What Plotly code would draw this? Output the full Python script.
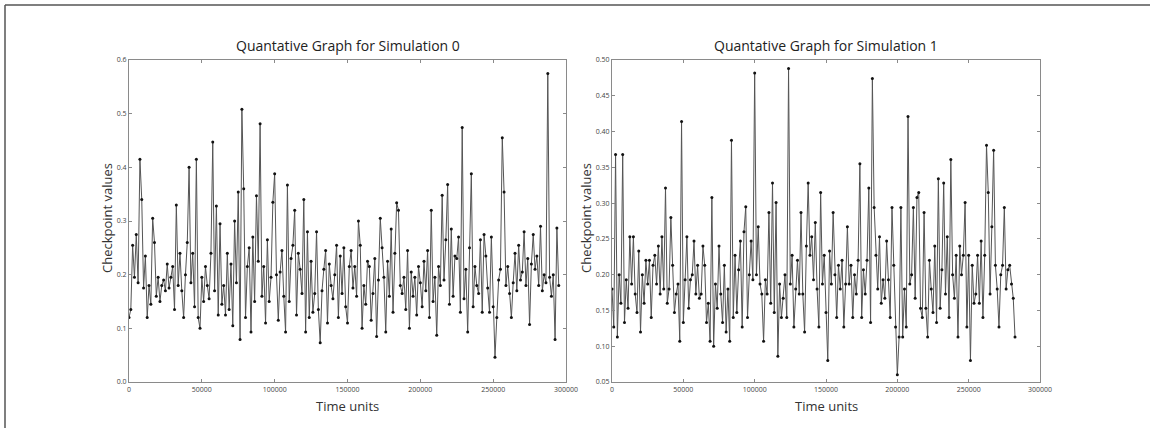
import plotly.graph_objects as go

# ---------------- data ----------------
step = 1250
sim0_values = [
    0.120, 0.135, 0.255, 0.195, 0.275, 0.185,
    0.415, 0.340, 0.175, 0.235, 0.120, 0.180,
    0.145, 0.305, 0.260, 0.160, 0.195, 0.150,
    0.180, 0.190, 0.170, 0.220, 0.175, 0.195,
    0.215, 0.135, 0.330, 0.180, 0.240, 0.170,
    0.120, 0.200, 0.260, 0.400, 0.185, 0.240,
    0.140, 0.415, 0.120, 0.100, 0.195, 0.150,
    0.215, 0.180, 0.155, 0.240, 0.447, 0.170,
    0.328, 0.125, 0.295, 0.145, 0.180, 0.125,
    0.240, 0.135, 0.220, 0.105, 0.300, 0.185,
    0.354, 0.079, 0.508, 0.360, 0.120, 0.215,
    0.250, 0.093, 0.270, 0.150, 0.347, 0.225,
    0.481, 0.160, 0.215, 0.110, 0.265, 0.150,
    0.195, 0.335, 0.388, 0.200, 0.115, 0.205,
    0.245, 0.160, 0.093, 0.367, 0.150, 0.230,
    0.255, 0.320, 0.125, 0.240, 0.210, 0.165,
    0.340, 0.093, 0.280, 0.120, 0.225, 0.130,
    0.165, 0.280, 0.135, 0.073, 0.170, 0.210,
    0.245, 0.110, 0.220, 0.180, 0.155, 0.200,
    0.255, 0.120, 0.235, 0.165, 0.250, 0.140,
    0.110, 0.215, 0.245, 0.175, 0.215, 0.160,
    0.300, 0.255, 0.100, 0.180, 0.145, 0.225,
    0.215, 0.115, 0.165, 0.230, 0.085, 0.190,
    0.305, 0.250, 0.195, 0.093, 0.225, 0.160,
    0.285, 0.130, 0.240, 0.334, 0.320, 0.180,
    0.165, 0.195, 0.135, 0.245, 0.100, 0.205,
    0.160, 0.195, 0.125, 0.215, 0.185, 0.140,
    0.225, 0.170, 0.245, 0.120, 0.320, 0.150,
    0.195, 0.087, 0.215, 0.180, 0.348, 0.190,
    0.265, 0.368, 0.145, 0.285, 0.160, 0.235,
    0.230, 0.270, 0.130, 0.474, 0.155, 0.210,
    0.093, 0.250, 0.388, 0.140, 0.215, 0.180,
    0.165, 0.265, 0.130, 0.275, 0.235, 0.175,
    0.130, 0.270, 0.140, 0.046, 0.120, 0.190,
    0.210, 0.455, 0.354, 0.180, 0.215, 0.165,
    0.120, 0.185, 0.240, 0.170, 0.255, 0.190,
    0.205, 0.280, 0.180, 0.230, 0.107, 0.220,
    0.275, 0.210, 0.235, 0.180, 0.290, 0.170,
    0.200, 0.185, 0.575, 0.195, 0.160, 0.200,
    0.079, 0.287, 0.180,
]
sim1_values = [
    0.180, 0.127, 0.368, 0.113, 0.200, 0.160,
    0.368, 0.133, 0.193, 0.153, 0.253, 0.187,
    0.253, 0.173, 0.147, 0.233, 0.120, 0.200,
    0.160, 0.220, 0.187, 0.220, 0.140, 0.213,
    0.227, 0.187, 0.240, 0.173, 0.253, 0.180,
    0.321, 0.160, 0.180, 0.280, 0.213, 0.147,
    0.173, 0.187, 0.107, 0.414, 0.133, 0.193,
    0.253, 0.153, 0.193, 0.200, 0.247, 0.173,
    0.213, 0.167, 0.173, 0.240, 0.213, 0.133,
    0.160, 0.107, 0.308, 0.100, 0.187, 0.153,
    0.240, 0.173, 0.133, 0.213, 0.120, 0.180,
    0.107, 0.388, 0.140, 0.227, 0.147, 0.207,
    0.247, 0.127, 0.260, 0.295, 0.140, 0.200,
    0.247, 0.193, 0.482, 0.200, 0.267, 0.187,
    0.173, 0.107, 0.193, 0.173, 0.287, 0.160,
    0.328, 0.147, 0.301, 0.086, 0.187, 0.140,
    0.167, 0.200, 0.140, 0.488, 0.187, 0.227,
    0.127, 0.180, 0.220, 0.173, 0.287, 0.173,
    0.120, 0.240, 0.328, 0.227, 0.253, 0.193,
    0.273, 0.180, 0.127, 0.315, 0.187, 0.227,
    0.147, 0.080, 0.233, 0.187, 0.287, 0.200,
    0.140, 0.213, 0.180, 0.220, 0.127, 0.187,
    0.267, 0.187, 0.213, 0.140, 0.200, 0.173,
    0.220, 0.355, 0.140, 0.207, 0.173, 0.220,
    0.321, 0.133, 0.474, 0.294, 0.227, 0.180,
    0.253, 0.160, 0.193, 0.167, 0.247, 0.193,
    0.140, 0.294, 0.213, 0.127, 0.060, 0.113,
    0.294, 0.113, 0.180, 0.127, 0.421, 0.187,
    0.200, 0.294, 0.167, 0.308, 0.315, 0.153,
    0.140, 0.287, 0.153, 0.113, 0.220, 0.180,
    0.147, 0.240, 0.133, 0.334, 0.153, 0.207,
    0.328, 0.173, 0.253, 0.140, 0.361, 0.200,
    0.167, 0.227, 0.113, 0.240, 0.200, 0.227,
    0.301, 0.127, 0.227, 0.080, 0.213, 0.160,
    0.173, 0.227, 0.160, 0.247, 0.140, 0.227,
    0.381, 0.315, 0.173, 0.267, 0.374, 0.213,
    0.180, 0.127, 0.200, 0.213, 0.294, 0.180,
    0.207, 0.213, 0.187, 0.167, 0.113,
]
sim0_times = [i * step for i in range(len(sim0_values))]
sim1_times = [i * step for i in range(len(sim1_values))]

titles = ["Quantative Graph for Simulation 0", "Quantative Graph for Simulation 1"]
x_label = "Time units"
y_label = "Checkpoint values"
x_ticks = [0, 50000, 100000, 150000, 200000, 250000, 300000]
y0_ticks = [0.0, 0.1, 0.2, 0.3, 0.4, 0.5, 0.6]
y1_ticks = [0.05, 0.10, 0.15, 0.20, 0.25, 0.30, 0.35, 0.40, 0.45, 0.50]

# ---------------- figure ----------------
W, H = 1150, 428
FONT = "Open Sans, DejaVu Sans, sans-serif"

def px_x(p):
    return p / W

def px_y(p):
    return 1 - p / H

fig = go.Figure()
line_style = dict(color="#555555", width=1)
marker_style = dict(color="#111111", size=3)

fig.add_trace(go.Scatter(x=sim0_times, y=sim0_values, mode="lines+markers",
                         line=line_style, marker=marker_style,
                         xaxis="x", yaxis="y", showlegend=False))
fig.add_trace(go.Scatter(x=sim1_times, y=sim1_values, mode="lines+markers",
                         line=line_style, marker=marker_style,
                         xaxis="x2", yaxis="y2", showlegend=False))

axis_common = dict(
    showline=True, linecolor="#8a8a8a", linewidth=1.2, mirror="ticks",
    ticks="inside", ticklen=3, tickcolor="#8a8a8a", showgrid=False,
    zeroline=False, tickfont=dict(family=FONT, size=7, color="#444444"),
)

y_top, y_bot = px_y(60), px_y(382)
fig.update_layout(
    template="none",
    width=W, height=H,
    margin=dict(l=0, r=0, t=0, b=0),
    font=dict(family=FONT, color="#444444"),
    paper_bgcolor="white", plot_bgcolor="white",
    xaxis=dict(domain=[px_x(129), px_x(566)], range=[0, 300000],
               tickvals=x_ticks, tickformat="d", anchor="y", **axis_common),
    yaxis=dict(domain=[y_bot, y_top], range=[0, 0.6], tickvals=y0_ticks,
               tickformat=".1f", anchor="x", **axis_common),
    xaxis2=dict(domain=[px_x(612), px_x(1040)], range=[0, 300000],
                tickvals=x_ticks, tickformat="d", anchor="y2", **axis_common),
    yaxis2=dict(domain=[y_bot, y_top], range=[0.05, 0.50], tickvals=y1_ticks,
                tickformat=".2f", anchor="x2", **axis_common),
)

title_font = dict(family=FONT, size=14, color="#222222")
label_font = dict(family=FONT, size=13, color="#333333")
ann = []
for cx, t in [((129 + 566) / 2, titles[0]), ((612 + 1040) / 2, titles[1])]:
    ann.append(dict(x=px_x(cx), y=px_y(46), xref="paper", yref="paper",
                    text=t, showarrow=False, font=title_font,
                    xanchor="center", yanchor="middle"))
for cx in [(129 + 566) / 2, (612 + 1040) / 2]:
    ann.append(dict(x=px_x(cx), y=px_y(406), xref="paper", yref="paper",
                    text=x_label, showarrow=False, font=label_font,
                    xanchor="center", yanchor="middle"))
for cx in [107, 586]:
    ann.append(dict(x=px_x(cx), y=px_y(218), xref="paper", yref="paper",
                    text=y_label, showarrow=False, font=label_font,
                    textangle=-90, xanchor="center", yanchor="middle"))
fig.update_layout(annotations=ann)

# outer frame (top and left edges)
fig.add_shape(type="line", xref="paper", yref="paper",
              x0=px_x(5), x1=1, y0=px_y(5), y1=px_y(5),
              line=dict(color="#555555", width=1.5))
fig.add_shape(type="line", xref="paper", yref="paper",
              x0=px_x(5), x1=px_x(5), y0=px_y(5), y1=0,
              line=dict(color="#555555", width=1.5))

fig.write_html("out.html")
